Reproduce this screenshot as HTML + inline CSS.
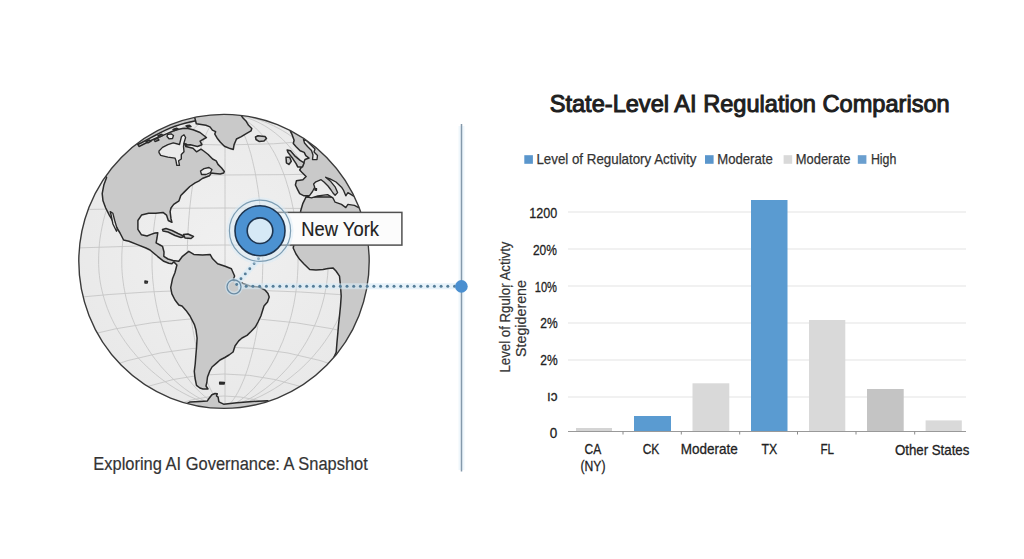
<!DOCTYPE html>
<html><head><meta charset="utf-8">
<style>
html,body{margin:0;padding:0;background:#fff;}
svg{display:block;}
text{font-family:"Liberation Sans",sans-serif;}
.land{fill:#c9c9c9;stroke:#2a2a2a;stroke-width:1.5;stroke-linejoin:round;}
.hole{fill:#ebebeb;stroke:#2a2a2a;stroke-width:1.35;stroke-linejoin:round;}
.t{fill:#222;}
.lg{fill:#333;}
</style></head>
<body>
<svg width="1024" height="559" viewBox="0 0 1024 559">
<defs>
<clipPath id="gc"><ellipse cx="224" cy="261.35" rx="145.2" ry="147"/></clipPath>
<radialGradient id="og" cx="50%" cy="45%" r="55%">
<stop offset="0" stop-color="#f0f0f0"/><stop offset="1" stop-color="#e9e9e9"/>
</radialGradient>
</defs>
<rect width="1024" height="559" fill="#fff"/>
<g clip-path="url(#gc)">
<ellipse cx="224" cy="261.35" rx="145.2" ry="147" fill="url(#og)"/>
<path d="M225.0,114.5 L220.0,114.6 L215.1,115.0 L210.1,115.5 L205.2,116.3 L200.3,117.3 L195.5,118.5 L190.7,120.0 L185.9,121.7 L181.2,123.6 L176.6,125.7 L172.1,128.0 L167.6,130.5 L163.2,133.2 L158.9,136.1 L154.8,139.2 L150.7,142.5 L146.7,146.0 L142.9,149.6 L139.2,153.4 L135.6,157.4 L132.2,161.6 L128.9,165.9 L125.7,170.3 L122.7,174.9 L119.9,179.6 L117.2,184.5 L114.7,189.4 L112.3,194.5 L110.2,199.7 L108.2,204.9 L106.4,210.3 L104.7,215.7 L103.3,221.2 L102.1,226.8 L101.0,232.4 L100.1,238.1 L99.4,243.8 L99.0,249.5 L98.7,255.2 L98.6,261.0 L98.6,264.6 L98.8,268.3 L99.0,271.9 L99.4,275.6 L99.8,279.2 L100.4,282.9 L101.1,286.6 L101.9,290.2 L102.8,293.9 L103.8,297.5 L104.9,301.1 L106.1,304.8 L107.4,308.4 L108.9,312.1 L110.4,315.8 L112.1,319.4 L113.9,323.1 L115.9,326.7 L117.9,330.4 L120.1,334.0 L122.5,337.6 L125.0,341.3 L127.6,344.9 L130.4,348.6 L133.4,352.2 L136.5,355.9 L139.8,359.6 L143.4,363.2 L147.1,366.9 L151.1,370.5 L155.4,374.1 L159.9,377.8 L164.8,381.4 L170.0,385.1 L175.8,388.8 L182.0,392.4 L189.1,396.1 L197.2,399.7 L207.1,403.4 L225.0,407.0 M225.0,114.5 L220.9,114.6 L216.9,115.0 L212.9,115.5 L208.9,116.3 L204.9,117.3 L200.9,118.5 L197.0,120.0 L193.1,121.7 L189.3,123.6 L185.5,125.7 L181.8,128.0 L178.1,130.5 L174.6,133.2 L171.1,136.1 L167.6,139.2 L164.3,142.5 L161.1,146.0 L158.0,149.6 L154.9,153.4 L152.0,157.4 L149.2,161.6 L146.5,165.9 L143.9,170.3 L141.5,174.9 L139.2,179.6 L137.0,184.5 L134.9,189.4 L133.0,194.5 L131.2,199.7 L129.6,204.9 L128.1,210.3 L126.8,215.7 L125.6,221.2 L124.6,226.8 L123.7,232.4 L123.0,238.1 L122.5,243.8 L122.1,249.5 L121.8,255.2 L121.8,261.0 L121.8,264.6 L121.9,268.3 L122.1,271.9 L122.4,275.6 L122.8,279.2 L123.3,282.9 L123.8,286.6 L124.5,290.2 L125.2,293.9 L126.0,297.5 L126.9,301.1 L127.9,304.8 L129.0,308.4 L130.2,312.1 L131.4,315.8 L132.8,319.4 L134.3,323.1 L135.9,326.7 L137.6,330.4 L139.4,334.0 L141.3,337.6 L143.3,341.3 L145.5,344.9 L147.8,348.6 L150.2,352.2 L152.7,355.9 L155.5,359.6 L158.4,363.2 L161.4,366.9 L164.7,370.5 L168.1,374.1 L171.9,377.8 L175.8,381.4 L180.1,385.1 L184.8,388.8 L189.9,392.4 L195.7,396.1 L202.3,399.7 L210.4,403.4 L225.0,407.0 M225.0,114.5 L222.1,114.6 L219.3,115.0 L216.4,115.5 L213.6,116.3 L210.8,117.3 L208.0,118.5 L205.2,120.0 L202.4,121.7 L199.7,123.6 L197.1,125.7 L194.4,128.0 L191.9,130.5 L189.3,133.2 L186.9,136.1 L184.4,139.2 L182.1,142.5 L179.8,146.0 L177.6,149.6 L175.4,153.4 L173.4,157.4 L171.4,161.6 L169.5,165.9 L167.7,170.3 L165.9,174.9 L164.3,179.6 L162.8,184.5 L161.3,189.4 L160.0,194.5 L158.7,199.7 L157.6,204.9 L156.5,210.3 L155.6,215.7 L154.7,221.2 L154.0,226.8 L153.4,232.4 L152.9,238.1 L152.5,243.8 L152.2,249.5 L152.1,255.2 L152.0,261.0 L152.0,264.6 L152.1,268.3 L152.3,271.9 L152.5,275.6 L152.7,279.2 L153.1,282.9 L153.5,286.6 L153.9,290.2 L154.4,293.9 L155.0,297.5 L155.6,301.1 L156.3,304.8 L157.1,308.4 L157.9,312.1 L158.8,315.8 L159.8,319.4 L160.9,323.1 L162.0,326.7 L163.2,330.4 L164.5,334.0 L165.8,337.6 L167.2,341.3 L168.8,344.9 L170.4,348.6 L172.1,352.2 L173.9,355.9 L175.8,359.6 L177.9,363.2 L180.0,366.9 L182.3,370.5 L184.8,374.1 L187.4,377.8 L190.2,381.4 L193.3,385.1 L196.6,388.8 L200.2,392.4 L204.3,396.1 L208.9,399.7 L214.7,403.4 L225.0,407.0 M225.0,114.5 L223.5,114.6 L222.0,115.0 L220.6,115.5 L219.1,116.3 L217.6,117.3 L216.2,118.5 L214.7,120.0 L213.3,121.7 L211.9,123.6 L210.5,125.7 L209.2,128.0 L207.8,130.5 L206.5,133.2 L205.3,136.1 L204.0,139.2 L202.8,142.5 L201.6,146.0 L200.5,149.6 L199.3,153.4 L198.3,157.4 L197.3,161.6 L196.3,165.9 L195.3,170.3 L194.4,174.9 L193.6,179.6 L192.8,184.5 L192.0,189.4 L191.3,194.5 L190.7,199.7 L190.1,204.9 L189.5,210.3 L189.1,215.7 L188.6,221.2 L188.3,226.8 L187.9,232.4 L187.7,238.1 L187.5,243.8 L187.3,249.5 L187.2,255.2 L187.2,261.0 L187.2,264.6 L187.3,268.3 L187.4,271.9 L187.5,275.6 L187.6,279.2 L187.8,282.9 L188.0,286.6 L188.2,290.2 L188.5,293.9 L188.8,297.5 L189.1,301.1 L189.5,304.8 L189.9,308.4 L190.3,312.1 L190.8,315.8 L191.3,319.4 L191.8,323.1 L192.4,326.7 L193.0,330.4 L193.7,334.0 L194.4,337.6 L195.1,341.3 L195.9,344.9 L196.7,348.6 L197.6,352.2 L198.6,355.9 L199.6,359.6 L200.6,363.2 L201.7,366.9 L202.9,370.5 L204.2,374.1 L205.5,377.8 L207.0,381.4 L208.6,385.1 L210.3,388.8 L212.2,392.4 L214.3,396.1 L216.7,399.7 L219.7,403.4 L225.0,407.0 M225.0,114.5 L225.0,114.6 L225.0,115.0 L225.0,115.5 L225.0,116.3 L225.0,117.3 L225.0,118.5 L225.0,120.0 L225.0,121.7 L225.0,123.6 L225.0,125.7 L225.0,128.0 L225.0,130.5 L225.0,133.2 L225.0,136.1 L225.0,139.2 L225.0,142.5 L225.0,146.0 L225.0,149.6 L225.0,153.4 L225.0,157.4 L225.0,161.6 L225.0,165.9 L225.0,170.3 L225.0,174.9 L225.0,179.6 L225.0,184.5 L225.0,189.4 L225.0,194.5 L225.0,199.7 L225.0,204.9 L225.0,210.3 L225.0,215.7 L225.0,221.2 L225.0,226.8 L225.0,232.4 L225.0,238.1 L225.0,243.8 L225.0,249.5 L225.0,255.2 L225.0,261.0 L225.0,264.6 L225.0,268.3 L225.0,271.9 L225.0,275.6 L225.0,279.2 L225.0,282.9 L225.0,286.6 L225.0,290.2 L225.0,293.9 L225.0,297.5 L225.0,301.1 L225.0,304.8 L225.0,308.4 L225.0,312.1 L225.0,315.8 L225.0,319.4 L225.0,323.1 L225.0,326.7 L225.0,330.4 L225.0,334.0 L225.0,337.6 L225.0,341.3 L225.0,344.9 L225.0,348.6 L225.0,352.2 L225.0,355.9 L225.0,359.6 L225.0,363.2 L225.0,366.9 L225.0,370.5 L225.0,374.1 L225.0,377.8 L225.0,381.4 L225.0,385.1 L225.0,388.8 L225.0,392.4 L225.0,396.1 L225.0,399.7 L225.0,403.4 L225.0,407.0 M225.0,114.5 L226.5,114.6 L228.0,115.0 L229.4,115.5 L230.9,116.3 L232.4,117.3 L233.8,118.5 L235.3,120.0 L236.7,121.7 L238.1,123.6 L239.5,125.7 L240.8,128.0 L242.2,130.5 L243.5,133.2 L244.7,136.1 L246.0,139.2 L247.2,142.5 L248.4,146.0 L249.5,149.6 L250.7,153.4 L251.7,157.4 L252.7,161.6 L253.7,165.9 L254.7,170.3 L255.6,174.9 L256.4,179.6 L257.2,184.5 L258.0,189.4 L258.7,194.5 L259.3,199.7 L259.9,204.9 L260.5,210.3 L260.9,215.7 L261.4,221.2 L261.7,226.8 L262.1,232.4 L262.3,238.1 L262.5,243.8 L262.7,249.5 L262.8,255.2 L262.8,261.0 L262.8,264.6 L262.7,268.3 L262.6,271.9 L262.5,275.6 L262.4,279.2 L262.2,282.9 L262.0,286.6 L261.8,290.2 L261.5,293.9 L261.2,297.5 L260.9,301.1 L260.5,304.8 L260.1,308.4 L259.7,312.1 L259.2,315.8 L258.7,319.4 L258.2,323.1 L257.6,326.7 L257.0,330.4 L256.3,334.0 L255.6,337.6 L254.9,341.3 L254.1,344.9 L253.3,348.6 L252.4,352.2 L251.4,355.9 L250.4,359.6 L249.4,363.2 L248.3,366.9 L247.1,370.5 L245.8,374.1 L244.5,377.8 L243.0,381.4 L241.4,385.1 L239.7,388.8 L237.8,392.4 L235.7,396.1 L233.3,399.7 L230.3,403.4 L225.0,407.0 M225.0,114.5 L227.9,114.6 L230.7,115.0 L233.6,115.5 L236.4,116.3 L239.2,117.3 L242.0,118.5 L244.8,120.0 L247.6,121.7 L250.3,123.6 L252.9,125.7 L255.6,128.0 L258.1,130.5 L260.7,133.2 L263.1,136.1 L265.6,139.2 L267.9,142.5 L270.2,146.0 L272.4,149.6 L274.6,153.4 L276.6,157.4 L278.6,161.6 L280.5,165.9 L282.3,170.3 L284.1,174.9 L285.7,179.6 L287.2,184.5 L288.7,189.4 L290.0,194.5 L291.3,199.7 L292.4,204.9 L293.5,210.3 L294.4,215.7 L295.3,221.2 L296.0,226.8 L296.6,232.4 L297.1,238.1 L297.5,243.8 L297.8,249.5 L297.9,255.2 L298.0,261.0 L298.0,264.6 L297.9,268.3 L297.7,271.9 L297.5,275.6 L297.3,279.2 L296.9,282.9 L296.5,286.6 L296.1,290.2 L295.6,293.9 L295.0,297.5 L294.4,301.1 L293.7,304.8 L292.9,308.4 L292.1,312.1 L291.2,315.8 L290.2,319.4 L289.1,323.1 L288.0,326.7 L286.8,330.4 L285.5,334.0 L284.2,337.6 L282.8,341.3 L281.2,344.9 L279.6,348.6 L277.9,352.2 L276.1,355.9 L274.2,359.6 L272.1,363.2 L270.0,366.9 L267.7,370.5 L265.2,374.1 L262.6,377.8 L259.8,381.4 L256.7,385.1 L253.4,388.8 L249.8,392.4 L245.7,396.1 L241.1,399.7 L235.3,403.4 L225.0,407.0 M225.0,114.5 L229.1,114.6 L233.1,115.0 L237.1,115.5 L241.1,116.3 L245.1,117.3 L249.1,118.5 L253.0,120.0 L256.9,121.7 L260.7,123.6 L264.5,125.7 L268.2,128.0 L271.9,130.5 L275.4,133.2 L278.9,136.1 L282.4,139.2 L285.7,142.5 L288.9,146.0 L292.0,149.6 L295.1,153.4 L298.0,157.4 L300.8,161.6 L303.5,165.9 L306.1,170.3 L308.5,174.9 L310.8,179.6 L313.0,184.5 L315.1,189.4 L317.0,194.5 L318.8,199.7 L320.4,204.9 L321.9,210.3 L323.2,215.7 L324.4,221.2 L325.4,226.8 L326.3,232.4 L327.0,238.1 L327.5,243.8 L327.9,249.5 L328.2,255.2 L328.2,261.0 L328.2,264.6 L328.1,268.3 L327.9,271.9 L327.6,275.6 L327.2,279.2 L326.7,282.9 L326.2,286.6 L325.5,290.2 L324.8,293.9 L324.0,297.5 L323.1,301.1 L322.1,304.8 L321.0,308.4 L319.8,312.1 L318.6,315.8 L317.2,319.4 L315.7,323.1 L314.1,326.7 L312.4,330.4 L310.6,334.0 L308.7,337.6 L306.7,341.3 L304.5,344.9 L302.2,348.6 L299.8,352.2 L297.3,355.9 L294.5,359.6 L291.6,363.2 L288.6,366.9 L285.3,370.5 L281.9,374.1 L278.1,377.8 L274.2,381.4 L269.9,385.1 L265.2,388.8 L260.1,392.4 L254.3,396.1 L247.7,399.7 L239.6,403.4 L225.0,407.0 M225.0,114.5 L230.0,114.6 L234.9,115.0 L239.9,115.5 L244.8,116.3 L249.7,117.3 L254.5,118.5 L259.3,120.0 L264.1,121.7 L268.8,123.6 L273.4,125.7 L277.9,128.0 L282.4,130.5 L286.8,133.2 L291.1,136.1 L295.2,139.2 L299.3,142.5 L303.3,146.0 L307.1,149.6 L310.8,153.4 L314.4,157.4 L317.8,161.6 L321.1,165.9 L324.3,170.3 L327.3,174.9 L330.1,179.6 L332.8,184.5 L335.3,189.4 L337.7,194.5 L339.8,199.7 L341.8,204.9 L343.6,210.3 L345.3,215.7 L346.7,221.2 L347.9,226.8 L349.0,232.4 L349.9,238.1 L350.6,243.8 L351.0,249.5 L351.3,255.2 L351.4,261.0 L351.4,264.6 L351.2,268.3 L351.0,271.9 L350.6,275.6 L350.2,279.2 L349.6,282.9 L348.9,286.6 L348.1,290.2 L347.2,293.9 L346.2,297.5 L345.1,301.1 L343.9,304.8 L342.6,308.4 L341.1,312.1 L339.6,315.8 L337.9,319.4 L336.1,323.1 L334.1,326.7 L332.1,330.4 L329.9,334.0 L327.5,337.6 L325.0,341.3 L322.4,344.9 L319.6,348.6 L316.6,352.2 L313.5,355.9 L310.2,359.6 L306.6,363.2 L302.9,366.9 L298.9,370.5 L294.6,374.1 L290.1,377.8 L285.2,381.4 L280.0,385.1 L274.2,388.8 L268.0,392.4 L260.9,396.1 L252.8,399.7 L242.9,403.4 L225.0,407.0 M125.3,140.2 Q224.0,149.8 322.7,140.2 M96.0,173.4 Q224.0,176.6 352.0,173.4 M78.0,209.6 Q224.0,206.4 370.0,209.6 M68.9,248.2 Q224.0,241.8 379.1,248.2 M70.9,298.0 Q224.0,282.0 377.1,298.0 M79.6,337.2 Q224.0,298.8 368.4,337.2 M96.0,371.0 Q224.0,323.0 352.0,371.0 M121.6,396.4 Q224.0,351.6 326.4,396.4 M158.4,412.0 Q224.0,380.0 289.6,412.0" fill="none" stroke="#c6c6c6" stroke-width="0.9"/>
<polygon class="land" points="80.0,160.0 125.0,118.0 139.0,146.5 146.0,143.0 152.0,140.0 157.0,137.8 162.3,135.6 167.0,133.6 172.0,131.5 176.0,130.0 180.0,129.0 184.2,128.3 188.0,128.6 193.1,129.8 200.0,132.5 206.4,137.5 200.1,141.1 201.9,144.7 197.4,146.5 190.3,144.7 185.5,145.0 185.8,146.5 193.0,148.3 196.5,151.8 201.0,149.2 203.7,151.0 208.2,154.5 212.6,159.0 216.2,160.8 218.0,164.4 221.6,168.0 224.3,171.5 223.7,173.1 220.2,174.0 215.0,173.5 211.2,173.1 209.4,175.8 202.3,178.5 198.7,181.1 195.1,182.9 189.8,186.5 184.4,191.9 180.8,195.5 179.0,200.8 173.7,204.4 171.0,208.0 170.1,211.6 171.0,218.7 171.9,222.3 168.3,220.5 166.5,215.1 163.0,212.4 155.8,213.3 148.6,213.3 141.5,215.1 137.9,220.5 137.9,229.4 141.5,234.8 147.0,236.0 151.0,234.4 155.0,233.0 157.8,232.7 157.0,238.0 156.1,242.9 160.0,245.0 162.5,246.3 164.0,252.0 163.8,256.3 168.0,259.0 173.0,260.5 178.8,261.3 182.5,256.3 188.8,251.3 193.8,254.4 202.6,255.0 210.1,254.4 212.6,258.8 217.6,263.8 225.1,266.3 231.4,268.8 234.6,276.0 233.0,280.2 237.0,281.0 243.0,283.5 250.0,286.0 259.0,287.0 265.0,290.0 268.0,293.5 269.2,297.0 267.5,302.0 264.0,306.0 260.9,316.0 258.0,322.0 255.3,327.1 251.0,331.5 247.0,335.4 242.0,338.0 238.7,340.9 235.0,346.0 233.1,352.0 229.0,355.0 224.8,357.5 220.0,360.0 216.5,363.1 212.0,367.0 209.6,371.4 207.5,377.0 206.8,382.5 206.0,386.0 208.0,389.0 203.0,389.0 199.9,388.0 196.5,385.3 195.0,378.0 194.3,371.4 195.2,364.0 195.7,357.5 196.5,348.0 197.1,338.1 196.0,330.0 194.3,324.3 190.0,316.0 186.0,310.4 182.0,306.0 178.8,305.0 175.0,300.0 171.9,293.8 170.7,287.6 172.5,278.8 175.0,272.5 176.9,265.0 173.8,261.9 171.9,263.8 168.8,263.2 163.8,261.3 157.5,256.3 150.0,250.0 145.9,248.0 137.4,244.6 128.9,241.2 123.6,240.0 120.0,233.0 114.7,224.1 109.3,215.1 105.7,208.0 103.0,200.8 102.2,193.7 103.9,184.7 106.6,177.6 104.0,174.0"/>
<polygon class="land" points="125.0,108.0 138.0,144.5 142.0,142.5 150.0,138.2 155.0,135.5 160.0,132.9 165.0,130.4 170.0,128.1 175.0,126.3 180.0,124.6 185.0,123.2 190.0,121.9 197.0,120.4 200.0,105.0"/>
<polygon class="land" points="190.0,100.0 195.5,120.5 196.3,123.7 201.1,124.5 205.9,125.3 210.0,126.9 212.4,130.1 215.6,131.7 214.8,134.1 217.2,138.2 220.4,142.2 224.4,146.2 230.1,148.6 233.3,149.4 234.1,144.6 236.5,139.0 241.3,136.6 245.4,134.1 251.0,130.9 251.8,128.5 248.6,125.3 246.2,121.3 243.0,118.0 241.3,115.6 245.0,100.0"/>
<polygon class="land" points="255.5,137.0 258.0,135.8 262.0,136.2 265.0,136.5 266.5,138.5 264.0,141.0 259.0,141.4 256.0,139.5"/>
<polygon class="land" points="283.0,110.0 290.5,131.4 292.1,134.7 294.1,140.3 293.3,143.5 296.1,146.7 300.1,150.8 304.2,152.4 305.8,155.6 309.0,158.0 305.0,159.5 302.9,164.7 299.7,170.0 301.8,172.2 306.1,176.5 302.9,179.7 296.4,180.8 295.4,185.0 297.5,189.3 299.7,193.6 304.0,195.8 309.3,195.8 320.0,197.0 340.0,202.0 375.0,206.0 380.0,100.0"/>
<polygon class="land" points="306.1,196.8 302.9,203.3 300.7,210.8 300.2,215.0 297.0,230.0 293.2,248.0 296.0,254.0 299.8,259.6 304.0,264.0 309.7,269.5 316.0,270.0 323.0,269.5 328.0,268.5 332.9,267.9 336.0,271.0 339.5,276.2 340.5,286.0 341.2,296.0 340.5,306.0 339.5,315.9 338.5,325.0 337.9,332.4 337.0,342.0 336.2,352.3 334.0,357.0 360.0,380.0 395.0,250.0 378.0,203.0 360.0,202.0 330.0,197.0 312.0,197.0"/>
<polygon class="land" points="287.2,150.0 290.5,150.8 294.5,155.6 300.1,160.4 304.2,162.8 302.5,166.9 297.7,166.9 296.1,163.6 292.9,158.8 288.0,152.4"/>
<polygon class="land" points="286.0,157.2 289.7,157.2 291.3,161.2 288.9,164.5 286.4,162.8"/>
<polygon class="land" points="150.0,425.0 190.0,401.9 200.0,401.5 207.2,401.1 208.8,398.8 211.9,394.8 215.0,393.5 217.3,393.7 216.5,396.0 218.1,397.2 218.9,401.9 223.6,404.2 236.9,402.7 252.5,401.5 267.3,400.7 300.0,425.0"/>
<polygon class="land" points="162.5,229.5 166.0,228.5 172.0,230.5 178.0,233.5 184.5,236.5 181.0,237.5 175.0,235.5 168.0,232.0 163.0,231.0"/>
<polygon class="land" points="183.5,234.5 188.0,234.0 193.5,236.5 191.0,238.5 185.0,238.0"/>
<polygon class="hole" points="309.3,195.8 312.5,191.5 314.7,187.2 313.6,184.0 315.8,181.8 321.1,179.7 324.0,182.0 328.0,186.0 331.0,190.0 333.0,193.0 335.1,195.2 337.6,192.6 335.3,187.2 330.8,181.6 325.6,177.3 330.0,178.8 336.0,182.0 341.5,187.2 343.6,190.4 345.8,195.8 347.9,192.6 353.3,195.8 356.0,197.5 368.0,198.0 368.0,207.0 358.7,207.6 354.4,205.4 347.9,204.4 345.8,207.6 341.5,204.4 335.1,202.2 332.9,197.9 327.6,194.7 317.9,195.8 311.5,197.9 306.1,196.8"/>
<polygon class="hole" points="159.0,151.0 162.5,147.4 167.9,144.7 173.3,142.9 179.5,144.5 180.6,140.0 181.5,136.5 184.0,134.8 185.6,137.5 184.0,142.9 183.5,146.5 184.0,151.8 181.3,154.5 181.3,159.0 178.6,160.8 179.5,165.3 176.8,165.3 176.0,160.8 175.0,158.1 167.9,157.2 160.7,155.4 159.0,152.7"/>
<polygon class="hole" points="184.0,143.5 186.0,143.8 187.0,144.5 185.0,145.0"/>
<polygon class="hole" points="200.5,171.0 204.0,168.6 209.0,167.5 212.0,169.5 210.5,172.5 206.0,174.5 201.5,174.5"/>
<polygon class="hole" points="167.5,134.5 171.0,133.8 173.5,135.5 172.5,138.5 169.0,138.8 167.0,136.5"/>
<polygon class="hole" points="154.0,139.5 158.0,138.5 159.0,140.0 155.0,141.5"/>
<polygon class="hole" points="110.2,211.6 112.9,213.3 114.7,220.5 117.3,229.4 116.5,231.2 112.9,224.0 111.1,215.0"/>
<polygon class="hole" points="303.5,139.5 307.0,141.0 311.0,145.0 315.0,149.0 314.0,152.0 317.5,155.5 317.0,159.5 312.5,159.6 313.0,155.0 311.5,150.5 307.5,146.5 304.5,143.0"/>
<polygon class="land" points="219.7,382.3 224.4,382.5 224.0,384.0 219.7,384.0"/><polygon class="land" points="145.0,281.0 147.5,281.5 147.0,283.0 145.0,283.0"/><polygon class="land" points="315.0,188.5 316.5,188.8 316.3,190.3 315.0,190.0"/><polygon class="land" points="146.0,141.5 149.5,140.0 151.0,141.0 148.0,142.8"/><polygon class="land" points="158.0,135.8 161.5,134.3 163.0,135.3 159.5,137.0"/><polygon class="land" points="173.0,129.5 176.5,128.2 178.0,129.0 174.5,130.5"/><polygon class="land" points="186.0,126.0 189.5,125.2 191.0,126.5 187.5,127.3"/>
</g>
<ellipse cx="224" cy="261.35" rx="145.2" ry="147" fill="none" stroke="#3a3a3a" stroke-width="1.4"/>

<!-- connectors -->
<line x1="238" y1="286.2" x2="456" y2="286.2" stroke="#d6ebf8" stroke-width="6" opacity="0.6"/>
<line x1="236" y1="284.5" x2="259" y2="258.5" stroke="#d6ebf8" stroke-width="6" opacity="0.6"/>
<circle cx="234" cy="286.8" r="7" fill="none" stroke="#cfe6f5" stroke-width="4" opacity="0.6"/>
<g fill="#557d98"><circle cx="246.2" cy="286.2" r="1.5"/><circle cx="252.9" cy="286.2" r="1.5"/><circle cx="259.6" cy="286.2" r="1.5"/><circle cx="266.4" cy="286.2" r="1.5"/><circle cx="273.1" cy="286.2" r="1.5"/><circle cx="279.8" cy="286.2" r="1.5"/><circle cx="286.5" cy="286.2" r="1.5"/><circle cx="293.2" cy="286.2" r="1.5"/><circle cx="300.0" cy="286.2" r="1.5"/><circle cx="306.7" cy="286.2" r="1.5"/><circle cx="313.4" cy="286.2" r="1.5"/><circle cx="320.1" cy="286.2" r="1.5"/><circle cx="326.8" cy="286.2" r="1.5"/><circle cx="333.6" cy="286.2" r="1.5"/><circle cx="340.3" cy="286.2" r="1.5"/><circle cx="347.0" cy="286.2" r="1.5"/><circle cx="353.7" cy="286.2" r="1.5"/><circle cx="360.4" cy="286.2" r="1.5"/><circle cx="367.2" cy="286.2" r="1.5"/><circle cx="373.9" cy="286.2" r="1.5"/><circle cx="380.6" cy="286.2" r="1.5"/><circle cx="387.3" cy="286.2" r="1.5"/><circle cx="394.0" cy="286.2" r="1.5"/><circle cx="400.8" cy="286.2" r="1.5"/><circle cx="407.5" cy="286.2" r="1.5"/><circle cx="414.2" cy="286.2" r="1.5"/><circle cx="420.9" cy="286.2" r="1.5"/><circle cx="427.6" cy="286.2" r="1.5"/><circle cx="434.4" cy="286.2" r="1.5"/><circle cx="441.1" cy="286.2" r="1.5"/><circle cx="447.8" cy="286.2" r="1.5"/><circle cx="454.5" cy="286.2" r="1.5"/><circle cx="236.7" cy="284.5" r="1.45"/><circle cx="241" cy="278.8" r="1.45"/><circle cx="245.3" cy="273.9" r="1.45"/><circle cx="249.8" cy="268.8" r="1.45"/><circle cx="254.2" cy="263.6" r="1.45"/><circle cx="258.5" cy="258.8" r="1.45"/></g>
<circle cx="234" cy="286.8" r="7" fill="none" stroke="#6a8ba3" stroke-width="1.3"/>

<!-- NY marker -->
<rect x="278" y="212.4" width="123.9" height="32.7" fill="#fcfcfc" stroke="#505050" stroke-width="1.5"/>
<circle cx="260" cy="230.7" r="33.5" fill="#d8ecf8" opacity="0.45"/>
<circle cx="260" cy="230.7" r="30.6" fill="none" stroke="#7d9db3" stroke-width="1.2"/>
<circle cx="260" cy="230.7" r="25" fill="#4c92d2" stroke="#1e3550" stroke-width="1.6"/>
<circle cx="260" cy="230.7" r="12.8" fill="#d6e9f6" stroke="#1e3550" stroke-width="1.6"/>
<text class="t" x="301.3" y="236.2" font-size="20.4" textLength="77.7" lengthAdjust="spacingAndGlyphs" text-anchor="start" fill="#111" stroke="#111" stroke-width="0.15">New York</text>

<!-- divider -->
<line x1="461.5" y1="126" x2="461.5" y2="470" stroke="#eff7fc" stroke-width="6"/>
<line x1="461.5" y1="124" x2="461.5" y2="471.5" stroke="#8499ab" stroke-width="1.5"/>
<circle cx="461.4" cy="286.4" r="6.3" fill="#4a8fd0"/>

<text class="lg" x="93.3" y="469.6" font-size="18" textLength="274.5" lengthAdjust="spacingAndGlyphs" text-anchor="start" stroke="#333" stroke-width="0.2">Exploring AI Governance: A Snapshot</text>

<!-- chart -->
<text class="t" x="549.7" y="112.3" font-size="24" textLength="400" lengthAdjust="spacingAndGlyphs" text-anchor="start" stroke="#1c1c1c" stroke-width="1.0">State-Level AI Regulation Comparison</text>
<rect x="524.3" y="155.2" width="8.6" height="8.6" fill="#5a96cc"/><text class="lg" x="536.4" y="164.2" font-size="14.6" textLength="160" lengthAdjust="spacingAndGlyphs" text-anchor="start" stroke="#333" stroke-width="0.25">Level of Regulatory Activity</text><rect x="705" y="155.2" width="8.6" height="8.6" fill="#5a96cc"/><text class="lg" x="717.2" y="164.2" font-size="14.6" textLength="55.5" lengthAdjust="spacingAndGlyphs" text-anchor="start" stroke="#333" stroke-width="0.25">Moderate</text><rect x="783.6" y="155.2" width="8.6" height="8.6" fill="#d9d9d9"/><text class="lg" x="795.7" y="164.2" font-size="14.6" textLength="54.7" lengthAdjust="spacingAndGlyphs" text-anchor="start" stroke="#333" stroke-width="0.25">Moderate</text><rect x="857.8" y="155.2" width="8.6" height="8.6" fill="#6a9fcf"/><text class="lg" x="870.9" y="164.2" font-size="14.6" textLength="25.4" lengthAdjust="spacingAndGlyphs" text-anchor="start" stroke="#333" stroke-width="0.25">High</text>
<g stroke="#e3e3e3" stroke-width="1.2"><line x1="568" y1="212" x2="966" y2="212"/><line x1="568" y1="249" x2="966" y2="249"/><line x1="568" y1="286" x2="966" y2="286"/><line x1="568" y1="323" x2="966" y2="323"/><line x1="568" y1="360" x2="966" y2="360"/><line x1="568" y1="397" x2="966" y2="397"/></g>
<rect x="576" y="428" width="36.0" height="3.5" fill="#d4d4d4"/><rect x="634" y="416" width="37.0" height="15.5" fill="#5a9bd1"/><rect x="692.5" y="383.3" width="36.8" height="48.2" fill="#d9d9d9"/><rect x="751" y="200" width="36.5" height="231.5" fill="#5a9bd1"/><rect x="809" y="320" width="36.3" height="111.5" fill="#d9d9d9"/><rect x="867" y="389" width="36.7" height="42.5" fill="#c4c4c4"/><rect x="925.6" y="420.4" width="36.2" height="11.1" fill="#d9d9d9"/>
<line x1="568" y1="431.5" x2="966" y2="431.5" stroke="#999" stroke-width="1.2"/>
<g stroke="#8a8a8a" stroke-width="1"><line x1="623" y1="431.5" x2="623" y2="434.5"/><line x1="681.3" y1="431.5" x2="681.3" y2="434.5"/><line x1="739.7" y1="431.5" x2="739.7" y2="434.5"/><line x1="797.5" y1="431.5" x2="797.5" y2="434.5"/><line x1="856" y1="431.5" x2="856" y2="434.5"/><line x1="914.7" y1="431.5" x2="914.7" y2="434.5"/></g>
<text class="t" x="529.3" y="217.9" font-size="15" textLength="28" lengthAdjust="spacingAndGlyphs" text-anchor="start" stroke="#222" stroke-width="0.3">1200</text><text class="t" x="532.9" y="254.5" font-size="15" textLength="24" lengthAdjust="spacingAndGlyphs" text-anchor="start" stroke="#222" stroke-width="0.3">20%</text><text class="t" x="534.7" y="291.5" font-size="15" textLength="22.3" lengthAdjust="spacingAndGlyphs" text-anchor="start" stroke="#222" stroke-width="0.3">10%</text><text class="t" x="540.2" y="328" font-size="15" textLength="17.4" lengthAdjust="spacingAndGlyphs" text-anchor="start" stroke="#222" stroke-width="0.3">2%</text><text class="t" x="540.2" y="364.9" font-size="15" textLength="17.4" lengthAdjust="spacingAndGlyphs" text-anchor="start" stroke="#222" stroke-width="0.3">2%</text><text class="t" x="547" y="401" font-size="15" textLength="10.5" lengthAdjust="spacingAndGlyphs" text-anchor="start" stroke="#222" stroke-width="0.3">ıɔ</text><text class="t" x="549.8" y="437.5" font-size="15" textLength="7.5" lengthAdjust="spacingAndGlyphs" text-anchor="start" stroke="#222" stroke-width="0.3">0</text>
<text class="t" x="584.6" y="454" font-size="15" textLength="16.7" lengthAdjust="spacingAndGlyphs" text-anchor="start" stroke="#222" stroke-width="0.3">CA</text><text class="t" x="580.5" y="470.5" font-size="15" textLength="25" lengthAdjust="spacingAndGlyphs" text-anchor="start" stroke="#222" stroke-width="0.3">(NY)</text><text class="t" x="642.7" y="454" font-size="15" textLength="16.7" lengthAdjust="spacingAndGlyphs" text-anchor="start" stroke="#222" stroke-width="0.3">CK</text><text class="t" x="680.7" y="454" font-size="15" textLength="57" lengthAdjust="spacingAndGlyphs" text-anchor="start" stroke="#222" stroke-width="0.3">Moderate</text><text class="t" x="761.4" y="454" font-size="15" textLength="15.7" lengthAdjust="spacingAndGlyphs" text-anchor="start" stroke="#222" stroke-width="0.3">TX</text><text class="t" x="820.4" y="454" font-size="15" textLength="13.6" lengthAdjust="spacingAndGlyphs" text-anchor="start" stroke="#222" stroke-width="0.3">FL</text><text class="t" x="894.9" y="454.5" font-size="15" textLength="74.5" lengthAdjust="spacingAndGlyphs" text-anchor="start" stroke="#222" stroke-width="0.3">Other States</text>
<g transform="translate(509.8,372.5) rotate(-90)"><text class="lg" x="0" y="0" font-size="13.8" textLength="131" lengthAdjust="spacingAndGlyphs" text-anchor="start" stroke="#333" stroke-width="0.2">Level of Rguloŗ Activty</text></g>
<g transform="translate(526,357) rotate(-90)"><text class="lg" x="0" y="0" font-size="13.8" textLength="77" lengthAdjust="spacingAndGlyphs" text-anchor="start" stroke="#333" stroke-width="0.2">Stegiderene</text></g>
</svg>
</body></html>
